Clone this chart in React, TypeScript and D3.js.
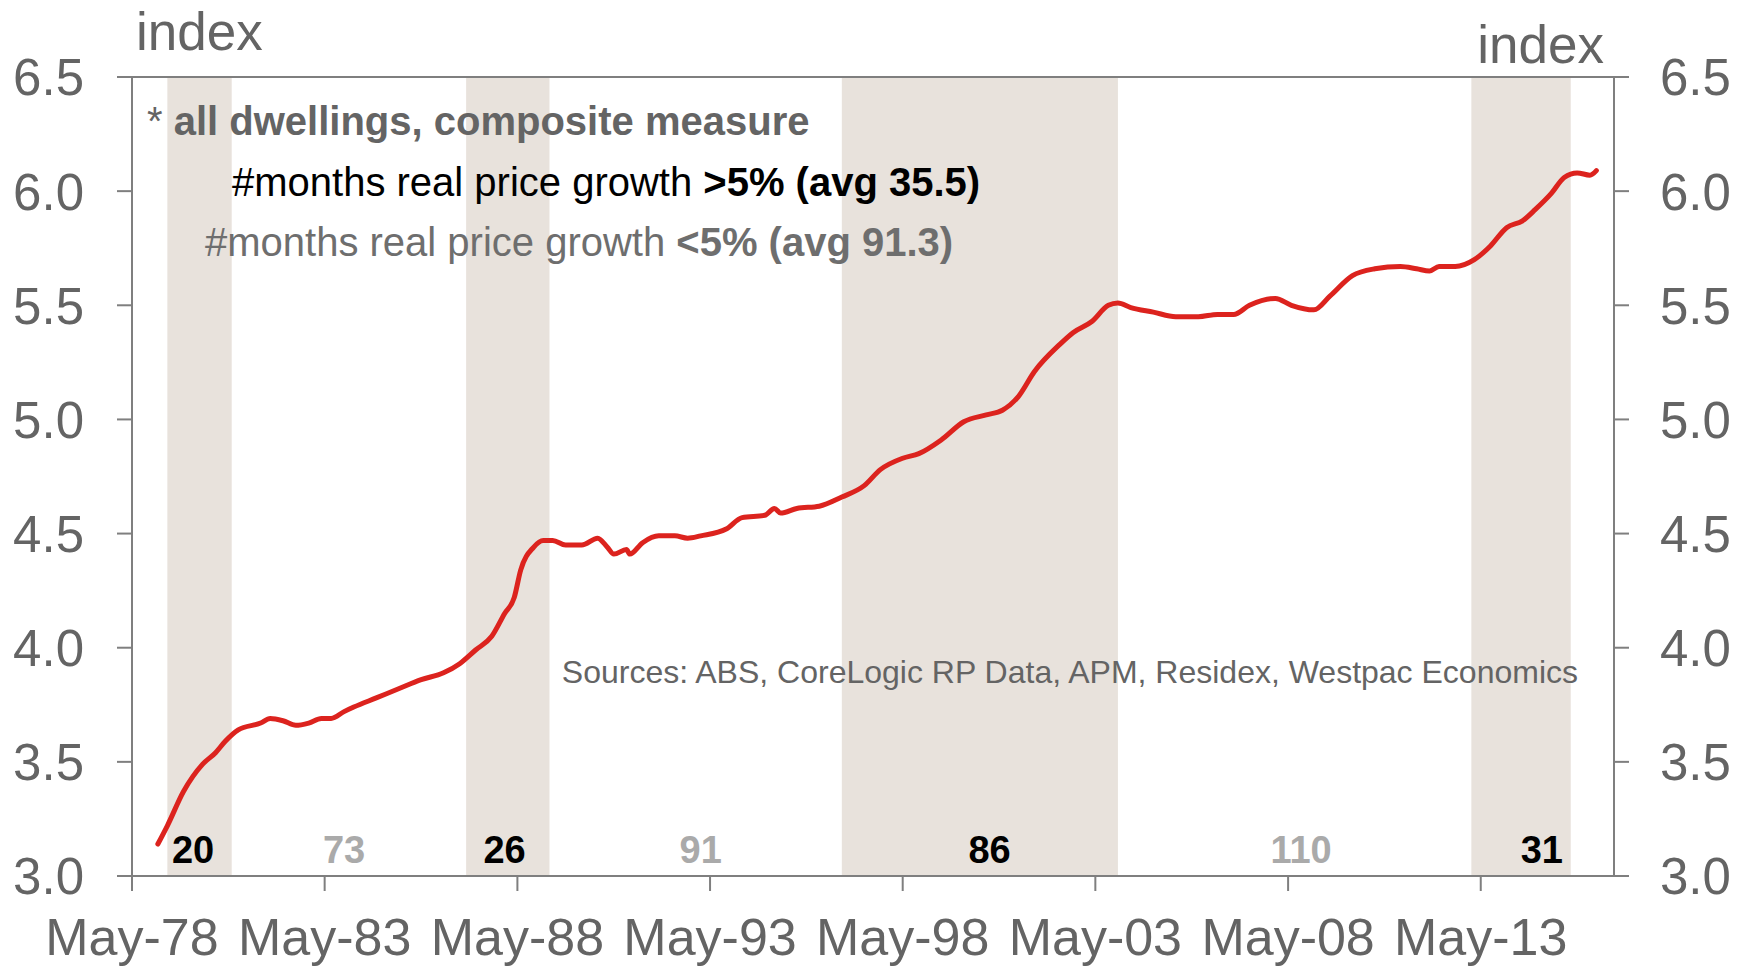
import React, { useEffect, useRef } from 'react';
import * as d3 from 'd3';

// real dwelling price index (log scale values)
const months = [
  '1979-01', '1979-04', '1979-09', '1980-03', '1980-07', '1980-10', '1981-02', '1981-09',
  '1981-12', '1982-04', '1982-08', '1982-12', '1983-04', '1983-07', '1983-11', '1984-02',
  '1984-09', '1985-04', '1985-11', '1986-06', '1986-11', '1987-04', '1987-09', '1988-01',
  '1988-04', '1988-06', '1988-10', '1989-01', '1989-04', '1989-08', '1990-01', '1990-06',
  '1990-09', '1990-11', '1991-03', '1991-04', '1991-08', '1992-01', '1992-06', '1992-10',
  '1993-02', '1993-10', '1994-03', '1994-10', '1995-01', '1995-03', '1995-08', '1996-03',
  '1996-10', '1997-05', '1997-10', '1998-05', '1998-10', '1999-05', '1999-12', '2000-07',
  '2000-12', '2001-05', '2001-10', '2002-06', '2002-10', '2003-04', '2003-09', '2003-12',
  '2004-04', '2004-11', '2005-06', '2006-01', '2006-07', '2006-12', '2007-05', '2008-01',
  '2008-06', '2009-01', '2009-06', '2010-01', '2010-08', '2011-04', '2011-09', '2012-01',
  '2012-04', '2012-09', '2013-03', '2013-08', '2014-01', '2014-06', '2014-10', '2015-03',
  '2015-07', '2015-11', '2016-03', '2016-05',
];
const indexValues = [
  3.14, 3.22, 3.37, 3.49, 3.54, 3.59, 3.64, 3.67,
  3.69, 3.68, 3.66, 3.67, 3.69, 3.69, 3.72, 3.74,
  3.78, 3.82, 3.86, 3.89, 3.93, 3.99, 4.05, 4.15,
  4.22, 4.34, 4.44, 4.47, 4.47, 4.45, 4.45, 4.48,
  4.44, 4.41, 4.43, 4.41, 4.46, 4.49, 4.49, 4.48,
  4.49, 4.52, 4.57, 4.58, 4.61, 4.59, 4.61, 4.62,
  4.66, 4.71, 4.78, 4.83, 4.85, 4.91, 4.99, 5.02,
  5.04, 5.10, 5.21, 5.33, 5.38, 5.43, 5.50, 5.51,
  5.49, 5.47, 5.45, 5.45, 5.46, 5.46, 5.50, 5.53,
  5.50, 5.48, 5.54, 5.63, 5.66, 5.67, 5.66, 5.65,
  5.67, 5.67, 5.70, 5.76, 5.84, 5.87, 5.92, 5.99,
  6.06, 6.08, 6.07, 6.09,
];

// periods of >5% real price growth (shaded)
const boomStarts = ['1979-04', '1987-01', '1996-10', '2013-02'];
const boomEnds = ['1980-12', '1989-03', '2003-12', '2015-09'];
// month counts, alternating boom / non-boom, and where each count sits
const periodCounts = [20, 73, 26, 91, 86, 110, 31];
const periodLabelMonths = ['1979-12', '1983-11', '1988-01', '1993-02', '2000-08', '2008-09', '2014-12'];

const yTicks = [3.0, 3.5, 4.0, 4.5, 5.0, 5.5, 6.0, 6.5];
const xTickDates = ['1978-05', '1983-05', '1988-05', '1993-05', '1998-05', '2003-05', '2008-05', '2013-05'];

const W = 1737;
const H = 967;

const App = () => {
  const svgRef = useRef(null);

  useEffect(() => {
    document.body.style.margin = '0';
    const parse = d3.timeParse('%Y-%m');
    const font = '"Liberation Sans", Arial, sans-serif';
    const grey = '#646464';
    const axisCol = '#7f7f7f';

    const left = 132;
    const right = 1614;
    const top = 77;
    const bottom = 876;

    const svg = d3.select(svgRef.current);
    svg.selectAll('*').remove();

    const x = d3
      .scaleTime()
      .domain([parse('1978-05'), new Date(2016, 9, 15)])
      .range([left, right]);
    const y = d3.scaleLinear().domain([3, 6.5]).range([bottom, top]);

    // shaded boom periods
    svg
      .append('g')
      .selectAll('rect')
      .data(boomStarts.map((s, i) => [parse(s), parse(boomEnds[i])]))
      .enter()
      .append('rect')
      .attr('x', (d) => x(d[0]))
      .attr('width', (d) => x(d[1]) - x(d[0]))
      .attr('y', top)
      .attr('height', bottom - top)
      .attr('fill', '#e8e2dc');

    // axes frame
    const tick = 15;
    [top, bottom].forEach((yy) => {
      svg
        .append('line')
        .attr('x1', left - tick)
        .attr('x2', right + tick)
        .attr('y1', yy)
        .attr('y2', yy)
        .attr('stroke', axisCol)
        .attr('stroke-width', 2);
    });
    [left, right].forEach((xx) => {
      svg
        .append('line')
        .attr('x1', xx)
        .attr('x2', xx)
        .attr('y1', top)
        .attr('y2', bottom)
        .attr('stroke', axisCol)
        .attr('stroke-width', 2);
    });

    // y ticks both sides
    const yg = svg.append('g');
    yTicks.forEach((v) => {
      yg.append('line')
        .attr('x1', left - tick)
        .attr('x2', left)
        .attr('y1', y(v))
        .attr('y2', y(v))
        .attr('stroke', axisCol)
        .attr('stroke-width', 2);
      yg.append('line')
        .attr('x1', right)
        .attr('x2', right + tick)
        .attr('y1', y(v))
        .attr('y2', y(v))
        .attr('stroke', axisCol)
        .attr('stroke-width', 2);
      yg.append('text')
        .attr('x', 84)
        .attr('y', y(v))
        .attr('dy', '0.36em')
        .attr('text-anchor', 'end')
        .attr('font-family', font)
        .attr('font-size', 51)
        .attr('fill', grey)
        .text(d3.format('.1f')(v));
      yg.append('text')
        .attr('x', 1660)
        .attr('y', y(v))
        .attr('dy', '0.36em')
        .attr('text-anchor', 'start')
        .attr('font-family', font)
        .attr('font-size', 51)
        .attr('fill', grey)
        .text(d3.format('.1f')(v));
    });

    // x ticks
    const fmt = d3.timeFormat('%b-%y');
    xTickDates.forEach((s) => {
      const d = parse(s);
      svg
        .append('line')
        .attr('x1', x(d))
        .attr('x2', x(d))
        .attr('y1', bottom)
        .attr('y2', bottom + tick)
        .attr('stroke', axisCol)
        .attr('stroke-width', 2);
      svg
        .append('text')
        .attr('x', x(d))
        .attr('y', 955)
        .attr('text-anchor', 'middle')
        .attr('font-family', font)
        .attr('font-size', 52)
        .attr('fill', grey)
        .text(fmt(d));
    });

    // axis titles
    svg
      .append('text')
      .attr('x', 136)
      .attr('y', 50)
      .attr('font-family', font)
      .attr('font-size', 53)
      .attr('fill', grey)
      .text('index');
    svg
      .append('text')
      .attr('x', 1604)
      .attr('y', 63)
      .attr('text-anchor', 'end')
      .attr('font-family', font)
      .attr('font-size', 53)
      .attr('fill', grey)
      .text('index');

    // the line
    const line = d3
      .line()
      .x((d) => x(d[0]))
      .y((d) => y(d[1]))
      .curve(d3.curveMonotoneX);
    svg
      .append('path')
      .datum(months.map((m, i) => [parse(m), indexValues[i]]))
      .attr('d', line)
      .attr('fill', 'none')
      .attr('stroke', '#dc231e')
      .attr('stroke-width', 5)
      .attr('stroke-linejoin', 'round')
      .attr('stroke-linecap', 'round');

    // period month counts
    svg
      .append('g')
      .selectAll('text')
      .data(periodLabelMonths)
      .enter()
      .append('text')
      .attr('x', (d) => x(parse(d)))
      .attr('y', 863)
      .attr('text-anchor', 'middle')
      .attr('font-family', font)
      .attr('font-weight', 'bold')
      .attr('font-size', 38)
      .attr('fill', (d, i) => (i % 2 === 0 ? '#000' : '#aaaaaa'))
      .text((d, i) => periodCounts[i]);

    // notes
    const note = svg.append('g').attr('font-family', font).attr('font-size', 40);
    const t1 = note.append('text').attr('x', 147).attr('y', 135).attr('fill', grey);
    t1.append('tspan').text('* ');
    t1.append('tspan').attr('font-weight', 'bold').text('all dwellings, composite measure');
    const t2 = note.append('text').attr('x', 232).attr('y', 196).attr('fill', '#000');
    t2.append('tspan').text('#months real price growth ');
    t2.append('tspan').attr('font-weight', 'bold').text('>5% (avg 35.5)');
    const t3 = note.append('text').attr('x', 205).attr('y', 256).attr('fill', '#6e6e6e');
    t3.append('tspan').text('#months real price growth ');
    t3.append('tspan').attr('font-weight', 'bold').text('<5% (avg 91.3)');

    svg
      .append('text')
      .attr('x', 1578)
      .attr('y', 683)
      .attr('text-anchor', 'end')
      .attr('font-family', font)
      .attr('font-size', 32)
      .attr('fill', grey)
      .text('Sources: ABS, CoreLogic RP Data, APM, Residex, Westpac Economics');
  }, []);

  return <svg ref={svgRef} width={W} height={H} style={{ display: 'block', background: '#fff' }}></svg>;
};

export default App;
